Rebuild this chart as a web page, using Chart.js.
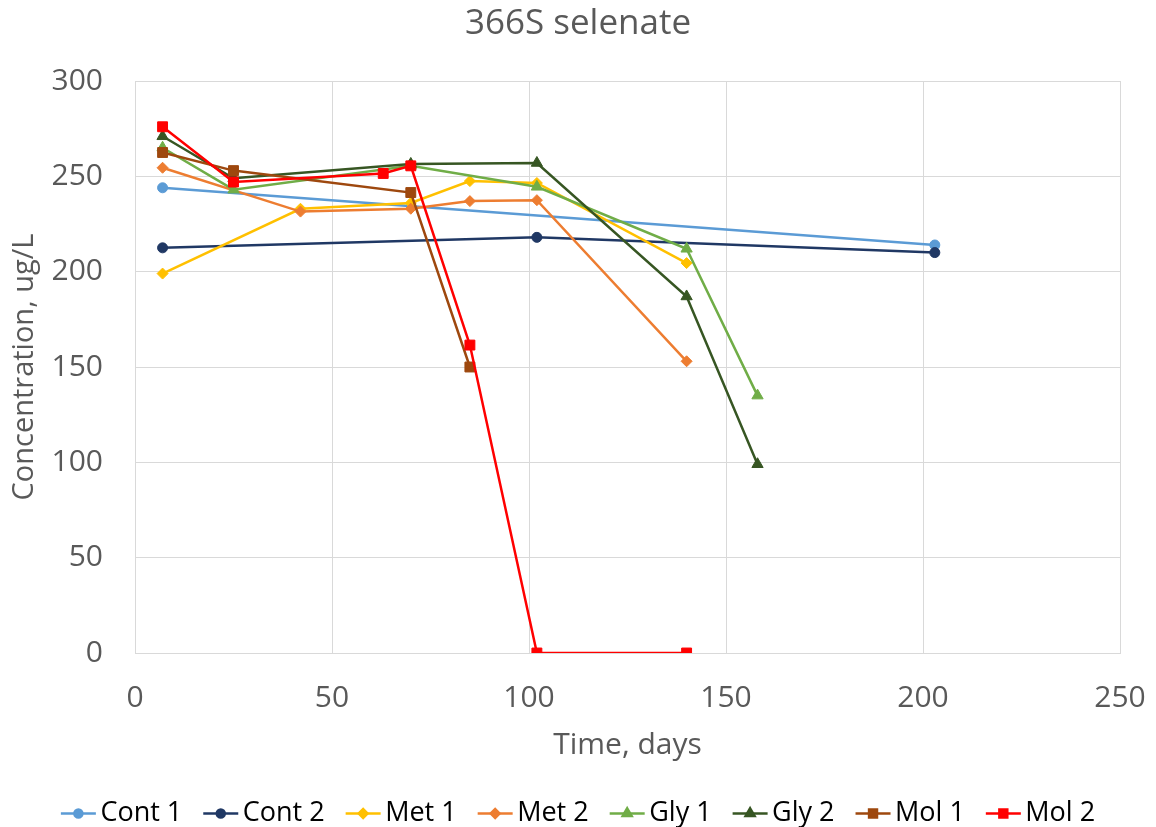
<!DOCTYPE html>
<html lang="en">
<head>
    <meta charset="UTF-8">
    <title>366S selenate</title>
    <style>
        body { margin: 0; background: #fff; }
        #chart { display: block; }
    </style>
    <script src="https://cdn.jsdelivr.net/npm/chart.js"></script>
</head>
<body>
    <canvas id="chart" width="1156" height="827"></canvas>
    <script>
        // Series data (days, ug/L)
        const seriesNames = ['Cont 1', 'Cont 2', 'Met 1', 'Met 2', 'Gly 1', 'Gly 2', 'Mol 1', 'Mol 2'];

        const cont1Days = [7, 203];
        const cont1 = [244, 214];
        const cont2Days = [7, 102, 203];
        const cont2 = [212.5, 218, 210];
        const met1Days = [7, 42, 70, 85, 102, 140];
        const met1 = [199, 233, 236, 247.5, 246.5, 204.5];
        const met2Days = [7, 42, 70, 85, 102, 140];
        const met2 = [254.5, 231.5, 233, 237, 237.5, 153];
        const gly1Days = [7, 25, 70, 102, 140, 158];
        const gly1 = [265, 243, 255.5, 244.5, 212, 135];
        const gly2Days = [7, 25, 70, 102, 140, 158];
        const gly2 = [271, 249, 256.5, 257, 187, 99];
        const mol1Days = [7, 25, 70, 85];
        const mol1 = [262.5, 253, 241.5, 150];
        const mol2Days = [7, 25, 63, 70, 85, 102, 140];
        const mol2 = [276, 247, 251.5, 255.5, 161.5, 0, 0];

        const xTicks = [0, 50, 100, 150, 200, 250];
        const yTicks = [0, 50, 100, 150, 200, 250, 300];

        const allDays = [cont1Days, cont2Days, met1Days, met2Days, gly1Days, gly2Days, mol1Days, mol2Days];
        const allValues = [cont1, cont2, met1, met2, gly1, gly2, mol1, mol2];

        const colors = ['#5B9BD5', '#203864', '#FFC000', '#ED7D31', '#70AD47', '#375623', '#9E480E', '#FF0000'];
        const markers = ['circle', 'circle', 'rectRot', 'rectRot', 'triangle', 'triangle', 'rect', 'rect'];
        const markerSize = { circle: 5, rectRot: 5.5, triangle: 6.5, rect: 7 };

        const textColor = '#595959';
        const gridColor = '#D9D9D9';
        const fontFamily = "'Open Sans', sans-serif";

        const datasets = seriesNames.map((name, i) => ({
            label: name,
            data: allDays[i].map((d, j) => ({ x: d, y: allValues[i][j] })),
            borderColor: colors[i],
            backgroundColor: colors[i],
            borderWidth: 2.5,
            pointStyle: markers[i],
            pointRadius: markerSize[markers[i]],
            pointBorderWidth: 1,
            tension: 0,
            order: seriesNames.length - i
        }));

        // Legend icon: short line with the marker in the middle (Excel style)
        const legendIcons = {
            id: 'legendIcons',
            afterDraw(chart) {
                const legend = chart.legend;
                if (!legend || !legend.legendHitBoxes) return;
                const ctx = chart.ctx;
                legend.legendHitBoxes.forEach((box, i) => {
                    const y = box.top + box.height / 2;
                    const x0 = box.left;
                    const x1 = box.left + 35;
                    ctx.save();
                    ctx.strokeStyle = colors[i];
                    ctx.lineWidth = 2.5;
                    ctx.beginPath();
                    ctx.moveTo(x0, y);
                    ctx.lineTo(x1, y);
                    ctx.stroke();
                    ctx.fillStyle = colors[i];
                    Chart.helpers.drawPoint(ctx, {
                        pointStyle: markers[i],
                        radius: markerSize[markers[i]] * 0.8,
                        borderWidth: 1
                    }, (x0 + x1) / 2, y);
                    ctx.fill();
                    ctx.restore();
                });
            }
        };

        new Chart(document.getElementById('chart'), {
            type: 'line',
            data: { datasets: datasets },
            plugins: [legendIcons],
            options: {
                responsive: false,
                animation: false,
                devicePixelRatio: 1,
                layout: { padding: { left: 0, right: 0, top: 0, bottom: -10 } },
                scales: {
                    x: {
                        type: 'linear',
                        min: 0,
                        max: 250,
                        afterBuildTicks: (scale) => { scale.ticks = xTicks.map(v => ({ value: v })); },
                        afterFit: (scale) => {
                            scale.height = 126;
                            scale.paddingRight = 0; // right margin comes from yRight below
                        },
                        grid: { color: gridColor, drawTicks: false },
                        border: { color: gridColor },
                        ticks: { color: textColor, font: { family: fontFamily, size: 30 }, padding: 27 },
                        title: {
                            display: true,
                            text: 'Time, days',
                            color: textColor,
                            font: { family: fontFamily, size: 30 },
                            padding: { top: 0, bottom: 16 }
                        }
                    },
                    y: {
                        min: 0,
                        max: 300,
                        afterBuildTicks: (scale) => { scale.ticks = yTicks.map(v => ({ value: v })); },
                        afterFit: (scale) => { scale.width = 135; },
                        grid: { color: gridColor, drawTicks: false },
                        border: { color: gridColor },
                        ticks: { color: textColor, font: { family: fontFamily, size: 30 }, padding: 32 },
                        title: {
                            display: true,
                            text: 'Concentration, ug/L',
                            color: textColor,
                            font: { family: fontFamily, size: 29 },
                            padding: { top: 7, bottom: 4 }
                        }
                    },
                    // empty right-hand strip so the plot ends at 250 like the reference
                    yRight: {
                        position: 'right',
                        min: 0,
                        max: 300,
                        afterFit: (scale) => { scale.width = 36; },
                        grid: { display: false },
                        border: { display: false },
                        ticks: { display: false }
                    }
                },
                plugins: {
                    title: {
                        display: true,
                        text: '366S selenate',
                        color: textColor,
                        font: { family: fontFamily, size: 35, weight: 'normal' },
                        padding: { top: 3, bottom: 36 }
                    },
                    legend: {
                        position: 'bottom',
                        labels: {
                            color: textColor,
                            font: { family: fontFamily, size: 27 },
                            boxWidth: 26,
                            boxHeight: 20,
                            padding: 21,
                            generateLabels: (chart) => chart.data.datasets.map((ds, i) => ({
                                text: ds.label,
                                fillStyle: 'rgba(0,0,0,0)',
                                strokeStyle: 'rgba(0,0,0,0)',
                                lineWidth: 0,
                                datasetIndex: i,
                                hidden: false
                            }))
                        }
                    },
                    tooltip: { enabled: false }
                }
            }
        });
    </script>
</body>
</html>
